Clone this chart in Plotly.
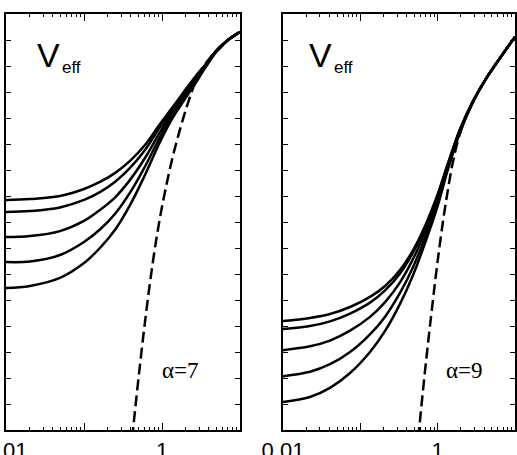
import plotly.graph_objects as go

W, H = 517, 455

# ---------------- data: left panel (alpha = 7) ----------------
x_left = [0.01, 0.0203, 0.0492, 0.1, 0.160, 0.249, 0.389, 0.605, 0.942, 1.34, 1.86, 2.65, 3.56, 5.07, 7.02, 10.0]
left_curves = [
    [8.85, 8.88, 9.00, 9.27, 9.54, 9.88, 10.35, 10.96, 11.77, 12.38, 12.96, 13.58, 14.04, 14.62, 15.00, 15.31],
    [8.38, 8.42, 8.56, 8.85, 9.15, 9.54, 10.08, 10.77, 11.65, 12.31, 12.90, 13.54, 14.02, 14.62, 15.00, 15.31],
    [7.42, 7.46, 7.65, 8.04, 8.46, 8.94, 9.62, 10.46, 11.46, 12.19, 12.81, 13.46, 14.00, 14.60, 15.00, 15.31],
    [6.46, 6.48, 6.73, 7.23, 7.71, 8.31, 9.13, 10.13, 11.27, 12.08, 12.71, 13.38, 13.96, 14.59, 15.00, 15.31],
    [5.46, 5.54, 5.85, 6.42, 7.00, 7.69, 8.65, 9.81, 11.08, 11.96, 12.62, 13.31, 13.92, 14.58, 15.00, 15.31],
]
x_left_dash = [0.378, 0.425, 0.478, 0.538, 0.605, 0.681, 0.767, 0.863, 0.971, 1.125, 1.34, 1.65,
               2.09, 2.65, 3.07, 4.12, 5.55, 7.02, 10.0]
y_left_dash = [-1.54, 0.0, 1.46, 2.85, 4.15, 5.38, 6.50, 7.50, 8.38, 9.35, 10.38, 11.42,
               12.46, 13.35, 13.77, 14.31, 14.69, 15.00, 15.31]

# ---------------- data: right panel (alpha = 9) ----------------
x_right = [0.01, 0.0223, 0.0405, 0.0736, 0.1334, 0.209, 0.326, 0.481, 0.687, 0.982, 1.364, 1.95, 2.87, 4.11, 6.41, 10.0]
right_curves = [
    [4.19, 4.31, 4.46, 4.73, 5.12, 5.54, 6.15, 6.92, 7.85, 9.00, 10.27, 11.58, 12.65, 13.46, 14.31, 15.12],
    [3.88, 4.00, 4.18, 4.48, 4.90, 5.37, 6.02, 6.83, 7.78, 8.95, 10.25, 11.57, 12.65, 13.46, 14.31, 15.12],
    [3.07, 3.22, 3.44, 3.82, 4.35, 4.92, 5.68, 6.58, 7.61, 8.83, 10.18, 11.53, 12.64, 13.46, 14.31, 15.12],
    [2.07, 2.24, 2.53, 3.00, 3.68, 4.36, 5.27, 6.27, 7.40, 8.68, 10.11, 11.50, 12.63, 13.46, 14.31, 15.12],
    [1.08, 1.27, 1.62, 2.19, 3.00, 3.81, 4.85, 5.96, 7.19, 8.54, 10.04, 11.46, 12.62, 13.46, 14.31, 15.12],
]
x_right_dash = [0.510, 0.574, 0.647, 0.729, 0.822, 0.925, 1.042, 1.174, 1.323, 1.536, 1.835, 2.26,
                2.87, 4.11, 6.41, 10.0]
y_right_dash = [-1.54, 0.0, 1.54, 3.00, 4.38, 5.69, 6.92, 8.04, 9.04, 10.15, 11.15, 11.96,
                12.65, 13.46, 14.31, 15.12]

x_tick_vals = [0.01, 0.1, 1, 10]
x_tick_text = ["0.01", "", "1", ""]
x_minor_vals = [m * d for d in (0.01, 0.1, 1) for m in range(2, 10)]
y_range = [0, 16]

fig = go.Figure()

def add_panel(xs, curves, xd, yd, xa, ya):
    for ys in curves:
        fig.add_trace(go.Scatter(x=xs, y=ys, mode="lines", xaxis=xa, yaxis=ya,
                                 line=dict(color="black", width=2.5, shape="spline", smoothing=1.0),
                                 showlegend=False, hoverinfo="skip"))
    fig.add_trace(go.Scatter(x=xd, y=yd, mode="lines", xaxis=xa, yaxis=ya,
                             line=dict(color="black", width=2.5, dash="11px,5px", shape="spline", smoothing=1.0),
                             showlegend=False, hoverinfo="skip"))

add_panel(x_left, left_curves, x_left_dash, y_left_dash, "x", "y")
add_panel(x_right, right_curves, x_right_dash, y_right_dash, "x2", "y2")

xcommon = dict(type="log", range=[-2, 1], showgrid=False, zeroline=False,
               showline=True, linecolor="black", linewidth=1.6, mirror="ticks",
               ticks="inside", ticklen=7, tickwidth=1.3, tickcolor="black",
               tickvals=x_tick_vals, ticktext=x_tick_text, ticklabeloverflow="allow",
               minor=dict(tickvals=x_minor_vals, ticks="inside", ticklen=3.5, tickwidth=1.1, tickcolor="black"),
               tickfont=dict(family="Liberation Sans, Arial, sans-serif", size=22, color="black"),
               automargin=False)
ycommon = dict(range=y_range, showgrid=False, zeroline=False,
               showline=True, linecolor="black", linewidth=1.6, mirror="ticks",
               ticks="inside", ticklen=5, tickwidth=1.3, tickcolor="black",
               dtick=1, showticklabels=False, automargin=False)

yd = [25 / H, 441 / H]
fig.update_layout(
    width=W, height=H, margin=dict(l=0, r=0, t=0, b=0),
    paper_bgcolor="white", plot_bgcolor="white",
    xaxis=dict(domain=[6 / W, 240 / W], anchor="y", **xcommon),
    yaxis=dict(domain=yd, anchor="x", **ycommon),
    xaxis2=dict(domain=[283 / W, 515 / W], anchor="y2", **xcommon),
    yaxis2=dict(domain=yd, anchor="x2", **ycommon),
)

def ann(text, px, py, size, family, xanchor="left", yanchor="bottom"):
    fig.add_annotation(text=text, x=px / W, y=1 - py / H, xref="paper", yref="paper",
                       xanchor=xanchor, yanchor=yanchor, showarrow=False,
                       font=dict(family=family, size=size, color="black"))

sans = "Liberation Sans, Arial, sans-serif"
serif = "Liberation Serif, Times New Roman, serif"
for vx in (48, 320):
    ann("V", vx, 76, 34, sans, xanchor="center")
    ann("eff", vx + 12, 79, 17, sans)
ann("α=7", 180, 370, 23, serif, xanchor="center", yanchor="middle")
ann("α=9", 464, 370, 23, serif, xanchor="center", yanchor="middle")

fig.write_html("out.html")
